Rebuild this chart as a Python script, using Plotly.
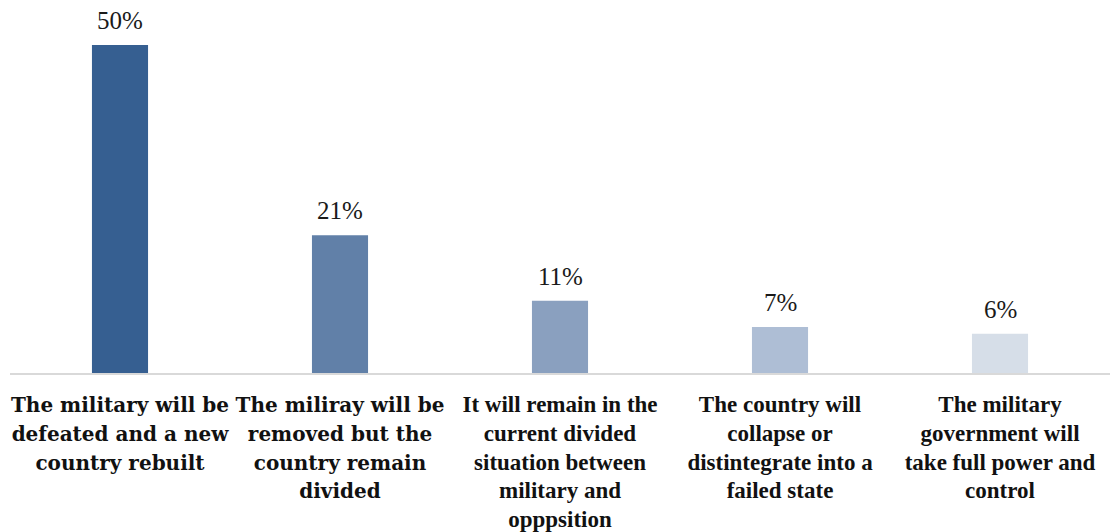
import plotly.graph_objects as go

category_lines = [
    ["The military will be", "defeated and a new", "country rebuilt"],
    ["The miliray will be", "removed but the", "country remain", "divided"],
    ["It will remain in the", "current divided", "situation between", "military and", "opppsition"],
    ["The country will", "collapse or", "distintegrate into a", "failed state"],
    ["The military", "government will", "take full power and", "control"],
]
values = [50, 21, 11, 7, 6]
bar_colors = ["#365F91", "#6180A8", "#8AA0BF", "#AEBED5", "#D6DEE8"]

# the first two captions are set in a wider face, the rest in a narrower one
wide_style = "font-family:'DejaVu Serif';font-size:20px"
narrow_style = "font-size:23px"
ticktext = []
for i, lines in enumerate(category_lines):
    style = wide_style if i < 2 else narrow_style
    lines = [f'<span style="{style}">{ln}</span>' for ln in lines]
    ticktext.append("<br>".join(lines))

keys = [f"c{i}" for i in range(len(category_lines))]

fig = go.Figure(
    go.Bar(
        x=keys,
        y=values,
        marker=dict(color=bar_colors, line=dict(width=0)),
        width=0.255,
        hoverinfo="skip",
    )
)

for k, v in zip(keys, values):
    fig.add_annotation(
        x=k, y=v, text=f"{v}%", showarrow=False,
        yanchor="bottom", yshift=9,
        font=dict(family="Liberation Serif", size=25, color="#1a1a1a"),
    )

fig.update_layout(
    width=1112, height=532,
    margin=dict(l=10, r=2, t=0, b=159),
    plot_bgcolor="white", paper_bgcolor="white",
    showlegend=False,
)
fig.update_xaxes(
    tickmode="array", tickvals=keys, ticktext=ticktext,
    showline=True, linecolor="#d9d9d9", linewidth=2,
    ticks="", showgrid=False, ticklabelstandoff=11,
    tickangle=0, automargin=False,
    tickfont=dict(family="Liberation Serif", size=22, color="#111111", weight="bold"),
    range=[-0.5, 4.5],
)
fig.update_yaxes(visible=False, range=[0, 56.86], showgrid=False, automargin=False)

fig.write_html("out.html")
